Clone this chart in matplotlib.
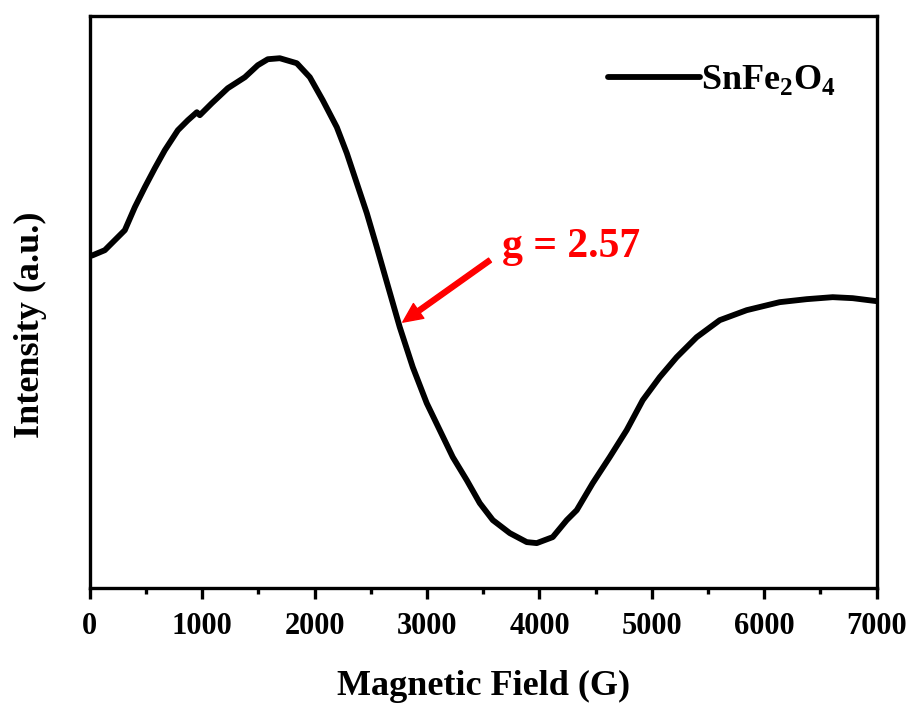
import matplotlib
matplotlib.use('Agg')
import matplotlib.pyplot as plt
from matplotlib.ticker import MultipleLocator

plt.rcParams['font.family'] = ['Liberation Serif', 'DejaVu Serif']
plt.rcParams['font.weight'] = 'bold'
plt.rcParams['mathtext.fontset'] = 'custom'
plt.rcParams['mathtext.rm'] = 'Liberation Serif:bold'
plt.rcParams['mathtext.bf'] = 'Liberation Serif:bold'

# EPR spectrum (field in G, intensity in arbitrary units)
field = [0, 27, 133, 222, 311, 400, 489, 578, 667, 783, 872, 952, 978, 1085,
         1227, 1379, 1494, 1583, 1690, 1841, 1957, 2072, 2197, 2286, 2375,
         2464, 2553, 2642, 2757, 2873, 2997, 3113, 3229, 3353, 3469, 3585,
         3736, 3887, 3976, 4118, 4243, 4332, 4474, 4625, 4776, 4919, 5070,
         5221, 5399, 5604, 5844, 6137, 6377, 6609, 6787, 7000]
intensity = [332, 333, 338, 348, 358, 381, 401, 420, 438, 458, 468, 476, 473,
             485, 500, 511, 523, 529, 530, 525, 511, 488, 461, 435, 405,
             375, 341, 306, 261, 221, 185, 158, 131, 108, 85, 68,
             55, 46, 45, 51, 68, 78, 105, 131, 158, 188, 211,
             231, 251, 268, 278, 286, 289, 291, 290, 287]

series_name = r'SnFe$_\mathbf{2}$O$_\mathbf{4}$'
g_label = 'g = 2.57'
g_tip = (2784, 266)
g_tail = (3560, 328)
g_text = (3665, 341)

fig = plt.figure(figsize=(9.17, 7.06), dpi=100)
ax = fig.add_axes([0.098, 0.167, 0.858, 0.810])

ax.plot(field, intensity, color='black', lw=4.2, label=series_name,
        solid_joinstyle='round', solid_capstyle='round')

# red arrow pointing at the g value position
ax.annotate('', xy=g_tip, xytext=g_tail,
            arrowprops=dict(facecolor='red', edgecolor='red', width=3.6,
                            headwidth=13, headlength=14, shrink=0))
ax.text(g_text[0], g_text[1], g_label, color='red', fontsize=30,
        fontweight='bold', va='center', ha='left')

ax.set_xlim(0, 7000)
ax.set_ylim(0, 572)
ax.xaxis.set_major_locator(MultipleLocator(1000))
ax.xaxis.set_minor_locator(MultipleLocator(500))
ax.set_yticks([])
ax.tick_params(axis='x', which='major', direction='out', length=8, width=2.4,
               labelsize=22, pad=9)
ax.tick_params(axis='x', which='minor', direction='out', length=4, width=2.4)
for s in ax.spines.values():
    s.set_linewidth(2.4)

ax.set_xlabel('Magnetic Field (G)', fontsize=26, fontweight='bold', labelpad=21)
ax.set_ylabel('Intensity (a.u.)', fontsize=26, fontweight='bold')
ax.yaxis.set_label_coords(-0.054, 0.46)

ax.legend(loc='center left', bbox_to_anchor=(0.658, 0.888), frameon=False,
          fontsize=26, handlelength=2.55, handletextpad=0.05, borderaxespad=0,
          borderpad=0)

fig.savefig('out.png', dpi=100)
